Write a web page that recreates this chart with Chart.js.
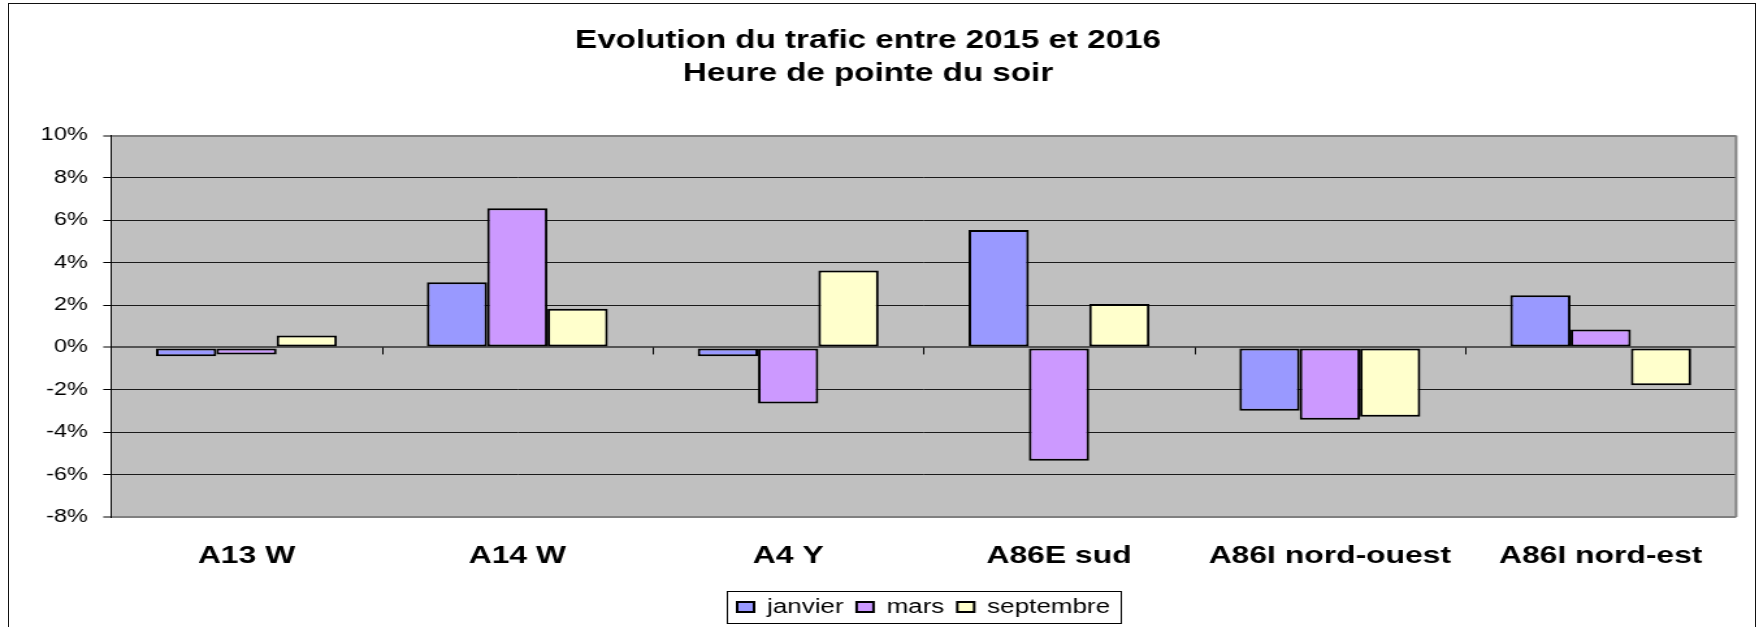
<!DOCTYPE html>
<html>
<head>
<meta charset="utf-8">
<title>Evolution du trafic entre 2015 et 2016</title>
<script src="https://cdn.jsdelivr.net/npm/chart.js@4.4.1/dist/chart.umd.min.js"></script>
<style>
  html, body { margin: 0; padding: 0; background: #fff; overflow: hidden; }
  #frame { position: absolute; left: 8px; top: 3px; width: 1746px; height: 700px; border: 1.5px solid #111; }
  /* the reference is horizontally stretched, so the canvas is drawn narrow and scaled */
  #wrap { position: absolute; left: 0; top: 0; width: 1353px; height: 627px; transform: scaleX(1.30007); transform-origin: 0 0; }
</style>
</head>
<body>
<div id="frame"></div>
<div id="wrap"><canvas id="trafficChart" width="1353" height="627"></canvas></div>
<script>
// data (percent)
const categories = ['A13 W', 'A14 W', 'A4 Y', 'A86E sud', 'A86I nord-ouest', 'A86I nord-est'];
const janvier    = [-0.41, 3.08, -0.41, 5.54, -2.99, 2.46];
const mars       = [-0.33, 6.57, -2.64, -5.35, -3.41, 0.85];
const septembre  = [0.56, 1.83, 3.63, 2.05, -3.27, -1.78];
const yMin = -8, yMax = 10, yStep = 2;

const FONT = '"Liberation Sans", Arial, sans-serif';

// grey plot area, right border, category tick marks on the zero line, legend frame
const excelLook = {
    id: 'excelLook',
    beforeDraw(chart) {
        const a = chart.chartArea, c = chart.ctx;
        c.save();
        c.fillStyle = '#c0c0c0';
        c.fillRect(a.left, a.top, a.right - a.left, a.bottom - a.top);
        c.restore();
    },
    afterDatasetsDraw(chart) {
        const a = chart.chartArea, c = chart.ctx;
        const x = chart.scales.x, y = chart.scales.y;
        const y0 = y.getPixelForValue(0);
        const half = (x.getPixelForValue(1) - x.getPixelForValue(0)) / 2;
        c.save();
        c.strokeStyle = '#000';
        c.lineWidth = 1;
        for (let i = 0; i <= categories.length; i++) {
            const px = Math.round(x.getPixelForValue(i) - half) + 0.5;
            c.beginPath();
            c.moveTo(px, y0);
            c.lineTo(px, y0 + 7);
            c.stroke();
        }
        c.strokeStyle = '#808080';
        c.lineWidth = 2;
        c.beginPath();
        c.moveTo(a.right, a.top);
        c.lineTo(a.right, a.bottom);
        c.stroke();
        c.restore();
    },
    afterDraw(chart) {
        const lg = chart.legend, c = chart.ctx;
        if (!lg || !lg.legendHitBoxes || !lg.legendHitBoxes.length) return;
        const hb = lg.legendHitBoxes;
        const l = Math.min(...hb.map(b => b.left)) - 8;
        const r = Math.max(...hb.map(b => b.left + b.width)) + 8;
        c.save();
        c.strokeStyle = '#000';
        c.lineWidth = 1;
        c.strokeRect(Math.round(l) + 0.5, lg.top + 4.5, Math.round(r - l), lg.bottom - lg.top - 8);
        c.restore();
    }
};

document.addEventListener('DOMContentLoaded', function() {
    const ctx = document.getElementById('trafficChart');
    const common = { borderColor: '#000', borderWidth: 2, borderSkipped: false,
                     categoryPercentage: 0.668, barPercentage: 1.0 };

    new Chart(ctx, {
        type: 'bar',
        data: {
            labels: categories,
            datasets: [
                Object.assign({ label: 'janvier', data: janvier, backgroundColor: '#9999ff' }, common),
                Object.assign({ label: 'mars', data: mars, backgroundColor: '#cc99ff' }, common),
                Object.assign({ label: 'septembre', data: septembre, backgroundColor: '#ffffcc' }, common)
            ]
        },
        options: {
            responsive: false,
            devicePixelRatio: 1,
            animation: false,
            layout: { padding: { left: 0, right: 17.6, top: 0, bottom: 0 } },
            plugins: {
                title: {
                    display: true,
                    text: ['Evolution du trafic entre 2015 et 2016', 'Heure de pointe du soir'],
                    color: '#000',
                    font: { family: FONT, size: 25.5, weight: 'bold', lineHeight: 1.3 },
                    padding: { top: 24.5, bottom: 44.7 }
                },
                legend: {
                    position: 'bottom',
                    fullSize: false,
                    labels: {
                        color: '#000',
                        font: { family: FONT, size: 20 },
                        boxWidth: 13,
                        boxHeight: 10,
                        padding: 10
                    }
                },
                tooltip: { enabled: false }
            },
            scales: {
                x: {
                    grid: { display: false },
                    border: { display: false },
                    ticks: {
                        color: '#000',
                        padding: 17,
                        font: { family: FONT, size: 24.5, weight: 'bold' }
                    },
                    afterFit(scale) { scale.height = 70; }
                },
                y: {
                    min: yMin,
                    max: yMax,
                    ticks: {
                        stepSize: yStep,
                        color: '#000',
                        padding: 12,
                        font: { family: FONT, size: 18 },
                        callback: v => v + '%'
                    },
                    grid: {
                        color: c => (c.tick && (c.tick.value === yMax || c.tick.value === yMin)) ? '#808080'
                                   : (c.tick && c.tick.value === 0 ? '#555' : '#1a1a1a'),
                        lineWidth: c => (c.tick && (c.tick.value === yMax || c.tick.value === yMin || c.tick.value === 0)) ? 2 : 1,
                        tickColor: '#000',
                        tickLength: 6,
                        tickWidth: 1
                    },
                    border: { color: '#000', width: 1 },
                    afterFit(scale) { scale.width = 85.4; }
                }
            }
        },
        plugins: [excelLook]
    });
});
</script>
</body>
</html>
